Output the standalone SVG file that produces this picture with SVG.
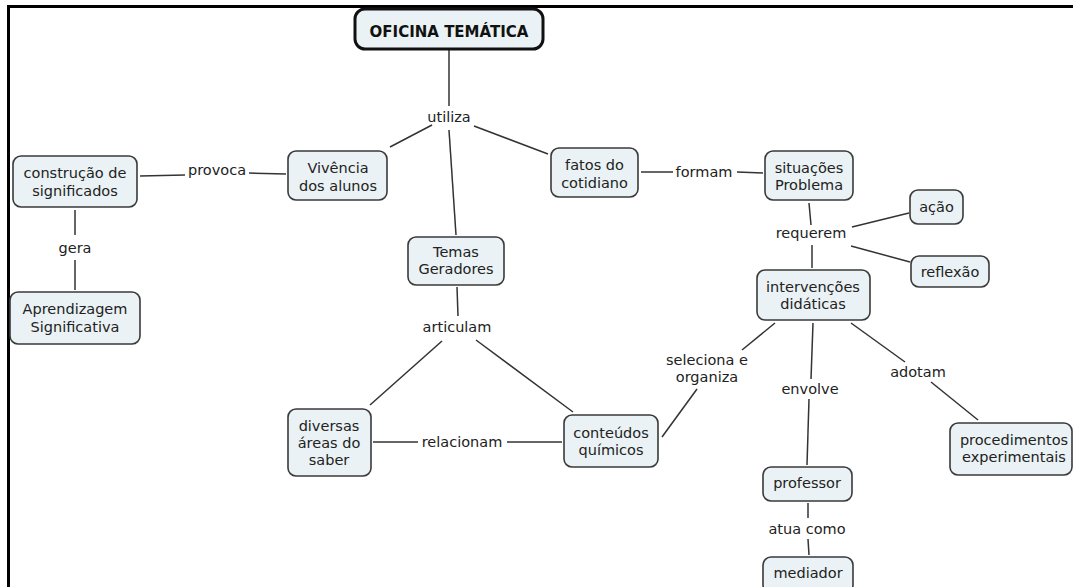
<svg xmlns="http://www.w3.org/2000/svg" width="1073" height="587" viewBox="0 0 1073 587">
<style>
.n{fill:#EAF2F5;stroke:#3a3a3a;stroke-width:1.6}
.t{font-family:"DejaVu Sans",Verdana,sans-serif;font-size:14.5px;fill:#222;text-anchor:middle}
.c line{stroke:#333;stroke-width:1.5}
</style>
<rect width="1073" height="587" fill="#fff"/>
<path d="M8.5 587 V6.5 H1073" fill="none" stroke="#000" stroke-width="3"/>
<g class="c" id="connectors">
<line x1="449" y1="50" x2="449" y2="106"/>
<line x1="432" y1="125" x2="390" y2="147"/>
<line x1="474" y1="126" x2="548" y2="154"/>
<line x1="449" y1="130" x2="456" y2="235"/>
<line x1="140" y1="176" x2="185" y2="175"/>
<line x1="249" y1="173" x2="286" y2="174"/>
<line x1="75" y1="210" x2="75" y2="235"/>
<line x1="75" y1="260" x2="75" y2="290"/>
<line x1="641" y1="172" x2="673" y2="172"/>
<line x1="737" y1="172" x2="763" y2="173"/>
<line x1="809" y1="203" x2="811" y2="225"/>
<line x1="812" y1="245" x2="812" y2="268"/>
<line x1="852" y1="227" x2="909" y2="213"/>
<line x1="851" y1="246" x2="910" y2="262"/>
<line x1="457" y1="287" x2="458" y2="316"/>
<line x1="442" y1="341" x2="370" y2="405"/>
<line x1="476" y1="340" x2="573" y2="412"/>
<line x1="373" y1="442" x2="418" y2="442"/>
<line x1="507" y1="442" x2="562" y2="442"/>
<line x1="775" y1="323" x2="742" y2="350"/>
<line x1="697" y1="389" x2="662" y2="437"/>
<line x1="813" y1="323" x2="811" y2="379"/>
<line x1="809" y1="399" x2="807" y2="465"/>
<line x1="851" y1="323" x2="905" y2="362"/>
<line x1="931" y1="382" x2="978" y2="420"/>
<line x1="808" y1="503" x2="808" y2="518"/>
<line x1="808" y1="539" x2="809" y2="555"/>
</g>
<g id="labels">
<text class="t" x="449" y="122">utiliza</text>
<text class="t" x="217" y="175">provoca</text>
<text class="t" x="75" y="253">gera</text>
<text class="t" x="704" y="177">formam</text>
<text class="t" x="811" y="238">requerem</text>
<text class="t" x="457" y="332">articulam</text>
<text class="t" x="462" y="447">relacionam</text>
<text class="t" x="707" y="365">seleciona e</text>
<text class="t" x="707" y="382">organiza</text>
<text class="t" x="810" y="394">envolve</text>
<text class="t" x="918" y="377">adotam</text>
<text class="t" x="807" y="534">atua como</text>
</g>
<g id="oficina">
<rect x="355" y="9" width="188" height="40" rx="10" fill="#EAF2F5" stroke="#111" stroke-width="3"/>
<text x="449" y="37" font-family="'DejaVu Sans',Verdana,sans-serif" font-size="15" font-weight="bold" fill="#111" text-anchor="middle">OFICINA TEMÁTICA</text>
</g>
<g id="vivencia">
<rect class="n" x="288" y="151" width="99" height="49" rx="8"/>
<text class="t" x="338" y="173">Vivência</text>
<text class="t" x="338" y="191">dos alunos</text>
</g>
<g id="construcao">
<rect class="n" x="13" y="156" width="124" height="51" rx="8"/>
<text class="t" x="75" y="178">construção de</text>
<text class="t" x="75" y="196">significados</text>
</g>
<g id="aprendizagem">
<rect class="n" x="10" y="292" width="130" height="52" rx="8"/>
<text class="t" x="75" y="314">Aprendizagem</text>
<text class="t" x="75" y="332">Significativa</text>
</g>
<g id="fatos">
<rect class="n" x="551" y="148" width="87" height="49" rx="8"/>
<text class="t" x="594.5" y="170">fatos do</text>
<text class="t" x="594.5" y="188">cotidiano</text>
</g>
<g id="temas">
<rect class="n" x="408" y="237" width="96" height="48" rx="8"/>
<text class="t" x="456" y="257">Temas</text>
<text class="t" x="456" y="274">Geradores</text>
</g>
<g id="situacoes">
<rect class="n" x="765" y="151" width="88" height="49" rx="8"/>
<text class="t" x="809" y="173">situações</text>
<text class="t" x="809" y="190">Problema</text>
</g>
<g id="acao">
<rect class="n" x="910" y="190" width="53" height="34" rx="8"/>
<text class="t" x="936.5" y="212">ação</text>
</g>
<g id="reflexao">
<rect class="n" x="911" y="256" width="78" height="31" rx="8"/>
<text class="t" x="950" y="277">reflexão</text>
</g>
<g id="intervencoes">
<rect class="n" x="757" y="270" width="113" height="50" rx="8"/>
<text class="t" x="813" y="292">intervenções</text>
<text class="t" x="813" y="309">didáticas</text>
</g>
<g id="diversas">
<rect class="n" x="288" y="409" width="83" height="67" rx="8"/>
<text class="t" x="329" y="431">diversas</text>
<text class="t" x="329" y="448">áreas do</text>
<text class="t" x="329" y="465">saber</text>
</g>
<g id="conteudos">
<rect class="n" x="564" y="415" width="94" height="52" rx="8"/>
<text class="t" x="611" y="438">conteúdos</text>
<text class="t" x="611" y="455">químicos</text>
</g>
<g id="procedimentos">
<rect class="n" x="950" y="423" width="122" height="52" rx="8"/>
<text class="t" x="1014" y="445">procedimentos</text>
<text class="t" x="1014" y="462">experimentais</text>
</g>
<g id="professor">
<rect class="n" x="763" y="467" width="89" height="34" rx="8"/>
<text class="t" x="807" y="488">professor</text>
</g>
<g id="mediador">
<rect class="n" x="763" y="557" width="90" height="36" rx="8"/>
<text class="t" x="808" y="578">mediador</text>
</g>
</svg>
